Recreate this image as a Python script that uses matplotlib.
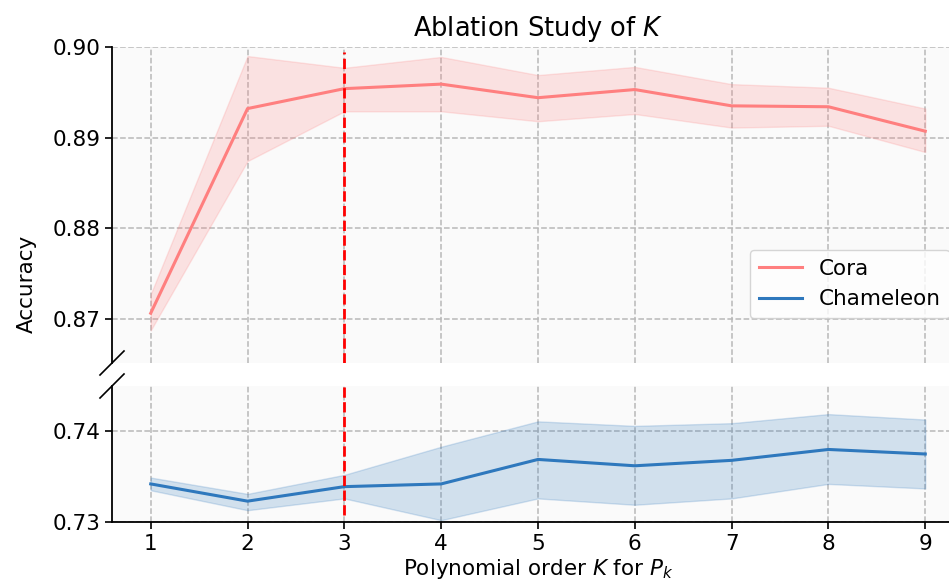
import matplotlib
matplotlib.use("Agg")
import matplotlib.pyplot as plt
import numpy as np

K = [1, 2, 3, 4, 5, 6, 7, 8, 9]
cora_mean = [0.8706, 0.8932, 0.8954, 0.8959, 0.8944, 0.8953, 0.8935, 0.8934, 0.8907]
cora_upper = [0.8727, 0.8990, 0.8977, 0.8989, 0.8969, 0.8978, 0.8959, 0.8955, 0.8932]
cora_lower = [0.8687, 0.8874, 0.8929, 0.8929, 0.8918, 0.8926, 0.8911, 0.8913, 0.8884]
cham_mean = [0.7342, 0.7323, 0.7339, 0.7342, 0.7369, 0.7362, 0.7368, 0.7380, 0.7375]
cham_upper = [0.7349, 0.7331, 0.7352, 0.7383, 0.7411, 0.7406, 0.7409, 0.7419, 0.7413]
cham_lower = [0.7335, 0.7313, 0.7326, 0.7302, 0.7326, 0.7319, 0.7326, 0.7342, 0.7337]
best_k = 3

cora_color = "#ff7f7f"
cham_color = "#2e78bd"

W, H = 949, 583
fig = plt.figure(figsize=(W / 100, H / 100), dpi=100)

def ax_rect(l, r, t, b):
    return [l / W, (H - b) / H, (r - l) / W, (b - t) / H]

# axes run slightly past the right edge of the image (as in the reference)
ax1 = fig.add_axes(ax_rect(112, 964, 47, 363))
ax2 = fig.add_axes(ax_rect(112, 964, 386, 522))

fs = 15.5
for ax in (ax1, ax2):
    ax.set_facecolor("#fafafa")
    ax.grid(True, linestyle="--", color="#b8b8b8", linewidth=1.1)
    ax.set_axisbelow(True)
    ax.spines["top"].set_visible(False)
    ax.spines["right"].set_visible(False)
    ax.set_xlim(0.6, 9.4)
    ax.set_xticks(K)
    ax.tick_params(axis="both", labelsize=fs, length=5, width=1.2)
    ax.spines["left"].set_linewidth(1.3)
    ax.spines["bottom"].set_linewidth(1.3)

ax1.spines["bottom"].set_visible(False)
ax1.tick_params(axis="x", bottom=False, labelbottom=False)

ax1.fill_between(K, cora_lower, cora_upper, color=cora_color, alpha=0.2)
l1, = ax1.plot(K, cora_mean, color=cora_color, lw=2.2, label="Cora")
ax1.fill_between(K, cham_lower, cham_upper, color=cham_color, alpha=0.2)
l2, = ax1.plot(K, cham_mean, color=cham_color, lw=2.2, label="Chameleon")

ax2.fill_between(K, cham_lower, cham_upper, color=cham_color, alpha=0.2)
ax2.plot(K, cham_mean, color=cham_color, lw=2.2)

ax1.axvline(best_k, ymin=0, ymax=0.985, color="red", linestyle="--", lw=2)
ax2.axvline(best_k, ymin=0.05, ymax=1, color="red", linestyle="--", lw=2)

ax1.set_ylim(0.8651, 0.90)
ax1.set_yticks([0.87, 0.88, 0.89, 0.90])
ax1.set_yticklabels(["0.87", "0.88", "0.89", "0.90"])
ax2.set_ylim(0.73, 0.7450)
ax2.set_yticks([0.73, 0.74])
ax2.set_yticklabels(["0.73", "0.74"])

# break marks
d = 12
for yb in (363, 386):
    x0, y0 = 112 / W, (H - yb) / H
    fig.add_artist(plt.Line2D([x0 - d / W, x0 + d / W], [y0 - d / H, y0 + d / H],
                              color="black", lw=1.2, transform=fig.transFigure, clip_on=False))

ax1.set_title("Ablation Study of $K$", fontsize=18.5, pad=8)
ax2.set_xlabel("Polynomial order $K$ for $P_k$", fontsize=fs, labelpad=2)
fig.text(27 / W, (H - 284) / H, "Accuracy", rotation=90, ha="center", va="center", fontsize=fs)

leg = ax1.legend(handles=[l1, l2], loc="upper left",
                 bbox_to_anchor=(750 / W, (H - 250) / H), bbox_transform=fig.transFigure,
                 fontsize=fs, frameon=True, fancybox=True, borderaxespad=0)
leg.get_frame().set_edgecolor("#cccccc")
leg.get_frame().set_facecolor("white")

fig.savefig("out.png", dpi=100)
